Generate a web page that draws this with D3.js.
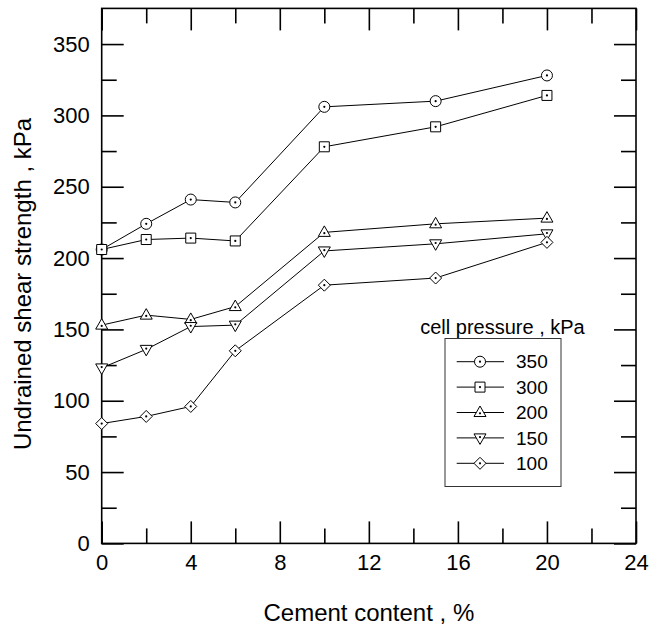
<!DOCTYPE html>
<html>
<head>
<meta charset="utf-8">
<script src="https://cdn.jsdelivr.net/npm/d3@7"></script>
<style>
  body { margin: 0; background: #fff; }
  text { font-family: "Liberation Sans", Arial, sans-serif; fill: #000; }
</style>
</head>
<body>
<svg id="chart" width="650" height="628"></svg>
<script>

// data
const cement = [0, 2, 4, 6, 10, 15, 20];
const s350 = [206, 224, 241, 239, 306, 310, 328];
const s300 = [206, 213, 214, 212, 278, 292, 314];
const s200 = [153, 160, 157, 166, 218, 224, 228];
const s150 = [123, 136, 152, 153, 205, 210, 217];
const s100 = [84, 89, 96, 135, 181, 186, 211];

const seriesNames = ["350", "300", "200", "150", "100"];
const seriesValues = [s350, s300, s200, s150, s100];
const seriesMarkers = ["circle", "square", "triUp", "triDown", "diamond"];

const xMajor = [0, 4, 8, 12, 16, 20, 24];
const xMinor = [2, 6, 10, 14, 18, 22];
const yMajor = [0, 50, 100, 150, 200, 250, 300, 350];
const yMinor = [25, 75, 125, 175, 225, 275, 325];

const svg = d3.select("#chart");

const x = d3.scaleLinear().domain([0, 24]).range([101.7, 636]);
const y = d3.scaleLinear().domain([0, 375]).range([543.4, 8.4]);

const majorLen = 22, minorLen = 15, frameW = 1.6;

// marker shapes, centred on 0,0
function markerPath(type) {
    const p = d3.path();
    if (type === "circle") {
        p.arc(0, 0, 5.5, 0, 2 * Math.PI);
    } else if (type === "square") {
        p.rect(-5, -5, 10, 10);
    } else if (type === "triUp") {
        p.moveTo(0, -6.5); p.lineTo(6, 4); p.lineTo(-6, 4); p.closePath();
    } else if (type === "triDown") {
        p.moveTo(0, 6.5); p.lineTo(6, -4); p.lineTo(-6, -4); p.closePath();
    } else if (type === "diamond") {
        p.moveTo(0, -6); p.lineTo(6, 0); p.lineTo(0, 6); p.lineTo(-6, 0); p.closePath();
    }
    return p.toString();
}

function drawMarker(g, type, cx, cy) {
    const m = g.append("g").attr("transform", `translate(${cx},${cy})`);
    m.append("path")
        .attr("d", markerPath(type))
        .attr("fill", "#fff")
        .attr("stroke", "#000")
        .attr("stroke-width", 1);
    m.append("circle")
        .attr("cx", 0)
        .attr("cy", type === "triUp" ? 0.8 : (type === "triDown" ? -0.8 : 0))
        .attr("r", 1.1)
        .attr("fill", "#000");
}

// axes
const axisGroup = svg.append("g");

function addAxis(axis, transform, withLabels) {
    const g = axisGroup.append("g").attr("transform", transform).call(axis);
    g.select(".domain").remove();
    g.selectAll(".tick line").attr("stroke", "#000").attr("stroke-width", frameW);
    if (withLabels) {
        g.selectAll(".tick text")
            .attr("font-size", 22)
            .attr("font-family", '"Liberation Sans", Arial, sans-serif')
            .attr("fill", "#000");
    } else {
        g.selectAll(".tick text").remove();
    }
}

const atBottom = `translate(0,${y(0)})`, atTop = `translate(0,${y(375)})`;
const atLeft = `translate(${x(0)},0)`, atRight = `translate(${x(24)},0)`;

addAxis(d3.axisBottom(x).tickValues(xMajor).tickFormat(d3.format("d"))
    .tickSizeInner(-majorLen).tickSizeOuter(0).tickPadding(11), atBottom, true);
addAxis(d3.axisBottom(x).tickValues(xMinor).tickSizeInner(-minorLen).tickSizeOuter(0), atBottom, false);
addAxis(d3.axisTop(x).tickValues(xMajor).tickSizeInner(-majorLen).tickSizeOuter(0), atTop, false);
addAxis(d3.axisTop(x).tickValues(xMinor).tickSizeInner(-minorLen).tickSizeOuter(0), atTop, false);

addAxis(d3.axisLeft(y).tickValues(yMajor).tickFormat(d3.format("d"))
    .tickSizeInner(-majorLen).tickSizeOuter(0).tickPadding(12), atLeft, true);
addAxis(d3.axisLeft(y).tickValues(yMinor).tickSizeInner(-minorLen).tickSizeOuter(0), atLeft, false);
addAxis(d3.axisRight(y).tickValues(yMajor).tickSizeInner(-majorLen).tickSizeOuter(0), atRight, false);
addAxis(d3.axisRight(y).tickValues(yMinor).tickSizeInner(-minorLen).tickSizeOuter(0), atRight, false);

// frame
axisGroup.append("rect")
    .attr("x", x(0))
    .attr("y", y(375))
    .attr("width", x(24) - x(0))
    .attr("height", y(0) - y(375))
    .attr("fill", "none")
    .attr("stroke", "#000")
    .attr("stroke-width", frameW);

// axis titles
svg.append("text")
    .attr("x", (x(0) + x(24)) / 2)
    .attr("y", 621)
    .attr("text-anchor", "middle")
    .attr("font-size", 24)
    .text("Cement content , %");

svg.append("text")
    .attr("transform", `translate(31,284) rotate(-90)`)
    .attr("text-anchor", "middle")
    .attr("font-size", 24)
    .text("Undrained shear strength , kPa");

// series
const line = d3.line().x(d => x(d[0])).y(d => y(d[1]));
const linesGroup = svg.append("g");
const markersGroup = svg.append("g");

seriesValues.forEach((vals, i) => {
    const pts = cement.map((c, j) => [c, vals[j]]);
    linesGroup.append("path")
        .attr("d", line(pts))
        .attr("fill", "none")
        .attr("stroke", "#000")
        .attr("stroke-width", 1);
    pts.forEach(p => drawMarker(markersGroup, seriesMarkers[i], x(p[0]), y(p[1])));
});

// legend
const legend = svg.append("g");
legend.append("text")
    .attr("x", 502.5)
    .attr("y", 334)
    .attr("text-anchor", "middle")
    .attr("font-size", 20)
    .text("cell pressure , kPa");

legend.append("rect")
    .attr("x", 445)
    .attr("y", 338.5)
    .attr("width", 116)
    .attr("height", 148)
    .attr("fill", "#fff")
    .attr("stroke", "#333")
    .attr("stroke-width", 1);

seriesNames.forEach((name, i) => {
    const ly = 361.7 + i * 25.4;
    legend.append("line")
        .attr("x1", 456.7).attr("x2", 504)
        .attr("y1", ly).attr("y2", ly)
        .attr("stroke", "#000")
        .attr("stroke-width", 1);
    drawMarker(legend, seriesMarkers[i], 480, ly);
    legend.append("text")
        .attr("x", 516)
        .attr("y", ly)
        .attr("dy", "0.35em")
        .attr("font-size", 19)
        .text(name);
});

</script>
</body>
</html>
